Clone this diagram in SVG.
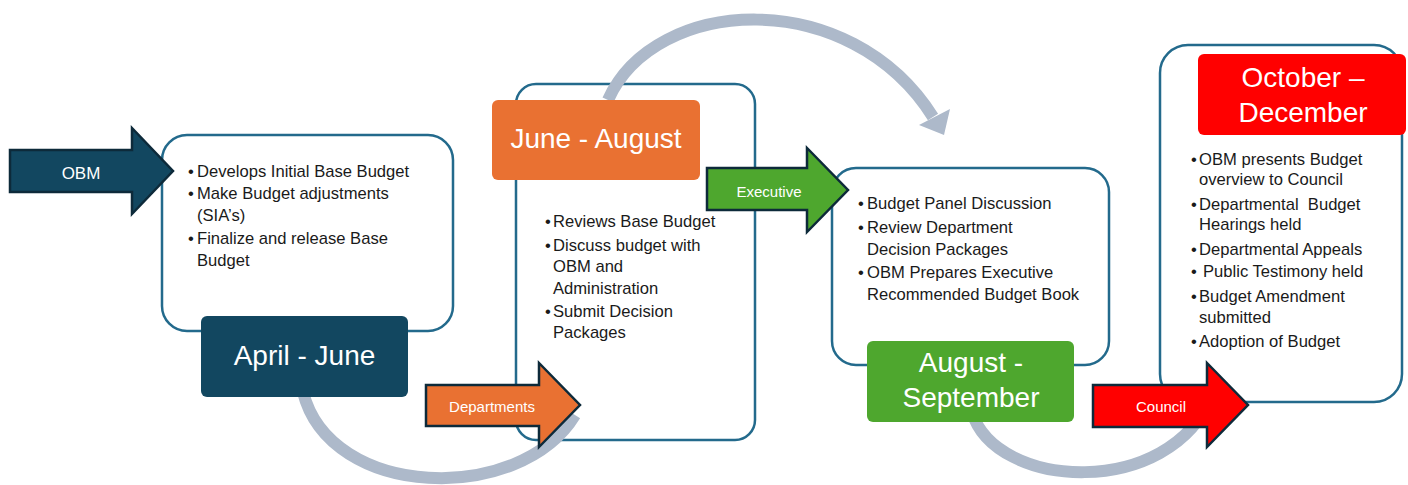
<svg xmlns="http://www.w3.org/2000/svg" width="1408" height="485" viewBox="0 0 1408 485">
  <style>
    .box { fill: #ffffff; stroke: #236A8C; stroke-width: 2.5; }
    .arc { fill: none; stroke: #ADB9CA; stroke-width: 12; }
    .arrow { stroke: #0D2A3A; stroke-width: 2.5; stroke-linejoin: miter; }
    .lbl { font-family: "Liberation Sans", Arial, sans-serif; font-size: 28px; fill: #ffffff; text-anchor: middle; }
    .alb { font-family: "Liberation Sans", Arial, sans-serif; font-size: 15px; fill: #ffffff; text-anchor: middle; }
    .body { font-family: "Liberation Sans", Arial, sans-serif; font-size: 16.6px; fill: #1a1a1a; }
    .navy { fill: #124760; }
    .orange { fill: #E97132; }
    .green { fill: #4EA72E; }
    .red { fill: #FF0000; }
  </style>

  <!-- white content panels -->
  <g id="panel-april">
    <rect class="box" x="162" y="135" width="291" height="196" rx="25"/>
    <text class="body">
      <tspan x="188" y="177">•</tspan><tspan x="197" y="177">Develops Initial Base Budget</tspan>
      <tspan x="188" y="199">•</tspan><tspan x="197" y="199">Make Budget adjustments</tspan>
      <tspan x="197" y="221">(SIA’s)</tspan>
      <tspan x="188" y="244">•</tspan><tspan x="197" y="244">Finalize and release Base</tspan>
      <tspan x="197" y="266">Budget</tspan>
    </text>
  </g>
  <g id="panel-june">
    <rect class="box" x="516" y="84" width="239" height="356" rx="20"/>
    <text class="body">
      <tspan x="545" y="227">•</tspan><tspan x="553" y="227">Reviews Base Budget</tspan>
      <tspan x="545" y="251">•</tspan><tspan x="553" y="251">Discuss budget with</tspan>
      <tspan x="553" y="272">OBM and</tspan>
      <tspan x="553" y="294">Administration</tspan>
      <tspan x="545" y="317">•</tspan><tspan x="553" y="317">Submit Decision</tspan>
      <tspan x="553" y="338">Packages</tspan>
    </text>
  </g>
  <g id="panel-august">
    <rect class="box" x="832" y="168" width="277" height="197" rx="24"/>
    <text class="body">
      <tspan x="858" y="209">•</tspan><tspan x="867" y="209">Budget Panel Discussion</tspan>
      <tspan x="858" y="233">•</tspan><tspan x="867" y="233">Review Department</tspan>
      <tspan x="867" y="255">Decision Packages</tspan>
      <tspan x="858" y="278">•</tspan><tspan x="867" y="278">OBM Prepares Executive</tspan>
      <tspan x="867" y="300">Recommended Budget Book</tspan>
    </text>
  </g>
  <g id="panel-october">
    <rect class="box" x="1160" y="45" width="242" height="357" rx="28"/>
    <text class="body" xml:space="preserve"><tspan x="1191" y="165">•</tspan><tspan x="1199" y="165">OBM presents Budget</tspan><tspan x="1199" y="185">overview to Council</tspan><tspan x="1191" y="210">•</tspan><tspan x="1199" y="210">Departmental  Budget</tspan><tspan x="1199" y="230">Hearings held</tspan><tspan x="1191" y="255">•</tspan><tspan x="1199" y="255">Departmental Appeals</tspan><tspan x="1191" y="277">•</tspan><tspan x="1203" y="277">Public Testimony held</tspan><tspan x="1191" y="302">•</tspan><tspan x="1199" y="302">Budget Amendment</tspan><tspan x="1199" y="323">submitted</tspan><tspan x="1191" y="347">•</tspan><tspan x="1199" y="347">Adoption of Budget</tspan></text>
  </g>

  <!-- curved grey connectors between phases -->
  <g id="connectors">
    <path class="arc" d="M 303,392 C 330,500 520,505 575,415"/>
    <path class="arc" d="M 608,100 C 655,-5 850,-15 933,117"/>
    <polygon points="919,125 950,109 944,135" fill="#ADB9CA"/>
    <path class="arc" d="M 972,412 C 995,490 1170,500 1212,395"/>
  </g>

  <!-- phase labels -->
  <g id="label-april">
    <rect class="navy" x="201" y="316" width="207" height="81" rx="6"/>
    <text class="lbl" x="304.5" y="365">April - June</text>
  </g>
  <g id="label-june">
    <rect class="orange" x="492" y="100" width="208" height="80" rx="6"/>
    <text class="lbl" x="596" y="148">June - August</text>
  </g>
  <g id="label-august">
    <rect class="green" x="867" y="341" width="207" height="81" rx="6"/>
    <text class="lbl" x="971" y="372">August -</text>
    <text class="lbl" x="971" y="407">September</text>
  </g>
  <g id="label-october">
    <rect class="red" x="1198" y="54" width="208" height="81" rx="6"/>
    <text class="lbl" x="1303" y="87">October –</text>
    <text class="lbl" x="1303" y="122">December</text>
  </g>

  <!-- block arrows naming the responsible party -->
  <g id="arrow-obm">
    <polygon class="arrow navy" points="10,150 132,150 132,128 173,171 132,214 132,192 10,192"/>
    <text class="alb" x="81" y="179" style="font-size:17px">OBM</text>
  </g>
  <g id="arrow-departments">
    <polygon class="arrow orange" points="426,385 539,385 539,363 580,405 539,447 539,426 426,426"/>
    <text class="alb" x="492" y="411.5">Departments</text>
  </g>
  <g id="arrow-executive">
    <polygon class="arrow green" points="707,168 807,168 807,148 848,190 807,232 807,210 707,210"/>
    <text class="alb" x="769" y="197">Executive</text>
  </g>
  <g id="arrow-council">
    <polygon class="arrow red" points="1093,385 1207,385 1207,363 1248,405 1207,447 1207,427 1093,427"/>
    <text class="alb" x="1161" y="412">Council</text>
  </g>
</svg>
